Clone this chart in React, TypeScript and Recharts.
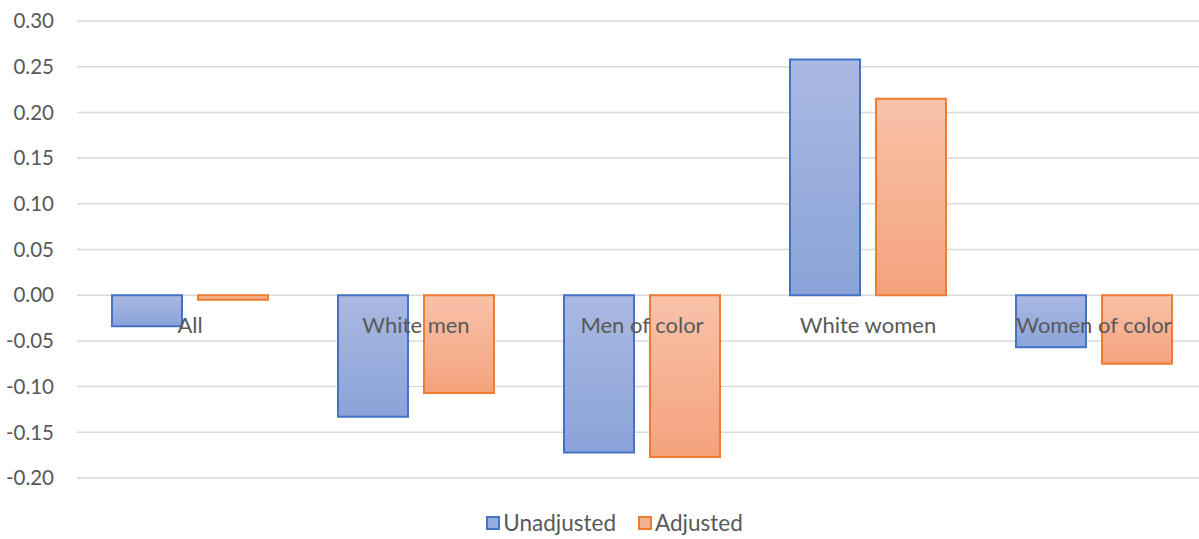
import { BarChart, Bar, XAxis, YAxis, CartesianGrid } from 'recharts';

const categories = ['All', 'White men', 'Men of color', 'White women', 'Women of color'];
const unadjusted = [-0.034, -0.133, -0.172, 0.258, -0.057];
const adjusted = [-0.005, -0.107, -0.177, 0.215, -0.075];
const yTicks = [-0.2, -0.15, -0.1, -0.05, 0, 0.05, 0.1, 0.15, 0.2, 0.25, 0.3];

const data = categories.map((name, i) => ({
  name,
  Unadjusted: unadjusted[i],
  Adjusted: adjusted[i],
}));

const W = 1199;
const H = 539;
const CHART_W = 1207;
const CHART_H = 495;
const TOP = 21;
const BOTTOM = 16;
const X_AXIS_H = 1;
const PLOT_H = CHART_H - TOP - BOTTOM - X_AXIS_H;
const Y_MIN = -0.2;
const Y_MAX = 0.3;
const FONT = 'Lato, "Open Sans", sans-serif';
const TEXT = '#595959';

// zero line position inside the svg
const zeroY = TOP + (PLOT_H * Y_MAX) / (Y_MAX - Y_MIN);

const CategoryTick = (props: any) => {
  const { x, payload } = props;
  return (
    <text
      x={x}
      y={zeroY + 38}
      textAnchor="middle"
      fill={TEXT}
      fontSize={22}
      fontFamily={FONT}
    >
      {payload.value}
    </text>
  );
};

const legendItems = [
  { label: 'Unadjusted', bg: '#97acdc', border: '#4472c4' },
  { label: 'Adjusted', bg: '#f5b293', border: '#ed7d31' },
];

export default function App() {
  return (
    <div style={{ width: W, height: H, background: '#fff', position: 'relative', overflow: 'hidden' }}>
      <style>{'body{margin:0}'}</style>
      <BarChart
        width={CHART_W}
        height={CHART_H}
        data={data}
        margin={{ top: TOP, right: 0, bottom: BOTTOM, left: 0 }}
        barSize={70}
        barGap={16}
      >
        <defs>
          <linearGradient id="gradBlue" x1="0" y1="0" x2="0" y2="1">
            <stop offset="0%" stopColor="#aab9e1" />
            <stop offset="100%" stopColor="#8aa3d9" />
          </linearGradient>
          <linearGradient id="gradOrange" x1="0" y1="0" x2="0" y2="1">
            <stop offset="0%" stopColor="#f8c2a9" />
            <stop offset="100%" stopColor="#f4a27c" />
          </linearGradient>
        </defs>
        <CartesianGrid vertical={false} stroke="#d9d9d9" strokeWidth={1.5} />
        <YAxis
          width={77}
          domain={[Y_MIN, Y_MAX]}
          ticks={yTicks}
          interval={0}
          axisLine={false}
          tickLine={false}
          tickMargin={17}
          tickFormatter={(v: number) => v.toFixed(2)}
          tick={{ fill: TEXT, fontSize: 20.5, fontFamily: FONT }}
        />
        <XAxis
          dataKey="name"
          height={X_AXIS_H}
          axisLine={false}
          tickLine={false}
          interval={0}
          tick={<CategoryTick />}
        />
        <Bar
          dataKey="Unadjusted"
          fill="url(#gradBlue)"
          stroke="#4472c4"
          strokeWidth={2}
          isAnimationActive={false}
        />
        <Bar
          dataKey="Adjusted"
          fill="url(#gradOrange)"
          stroke="#ed7d31"
          strokeWidth={2}
          isAnimationActive={false}
        />
      </BarChart>
      <div
        style={{
          position: 'absolute',
          left: 0,
          top: 509,
          width: W,
          display: 'flex',
          justifyContent: 'center',
          gap: 22,
          fontFamily: FONT,
          fontSize: 22.5,
          lineHeight: '28px',
          color: TEXT,
          paddingLeft: 30,
          boxSizing: 'border-box',
        }}
      >
        {legendItems.map((it) => (
          <span key={it.label} style={{ display: 'flex', alignItems: 'center' }}>
            <span
              style={{
                display: 'inline-block',
                width: 10,
                height: 10,
                background: it.bg,
                border: `2px solid ${it.border}`,
                marginRight: 3,
              }}
            />
            {it.label}
          </span>
        ))}
      </div>
    </div>
  );
}
